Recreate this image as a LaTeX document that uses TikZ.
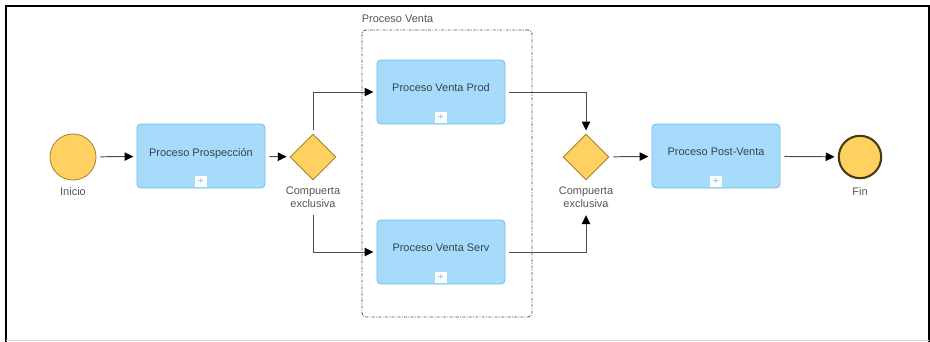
\documentclass[tikz,border=0pt]{standalone}
\usepackage{fontspec}
\setmainfont{Liberation Sans}
\usetikzlibrary{arrows.meta,positioning,shapes.geometric}
\definecolor{taskfill}{HTML}{A6DBFB}
\definecolor{taskdraw}{HTML}{7DBDE6}
\definecolor{gatefill}{HTML}{FFD160}
\definecolor{gatedraw}{HTML}{A8842C}
\definecolor{enddraw}{HTML}{4A3A14}
\definecolor{linegray}{HTML}{4D4D4D}
\definecolor{tasktext}{HTML}{36434E}
\definecolor{lbltext}{HTML}{555555}

\begin{document}
\begin{tikzpicture}[
    x=0.025cm, y=-0.025cm,
    font=\fontsize{7.8}{9.3}\selectfont,
    task/.style={draw=taskdraw, fill=taskfill, text=tasktext, rounded corners=1mm, line width=0.6pt, minimum width=32mm, minimum height=16mm, text depth=2mm},
    plusbox/.style={fill=white, text=taskdraw, inner sep=0pt, minimum size=2.8mm, font=\fontsize{7.5}{7.5}\selectfont},
    gateway/.style={diamond, aspect=1, draw=gatedraw, fill=gatefill, line width=0.6pt, inner sep=0pt, minimum width=11.5mm, minimum height=11.5mm},
    startev/.style={circle, draw=gatedraw, fill=gatefill, line width=0.6pt, minimum size=11.5mm, inner sep=0pt},
    endev/.style={circle, draw=enddraw, fill=gatefill, line width=1.5pt, minimum size=10.6mm, inner sep=0pt},
    lbl/.style={text=lbltext, align=center},
    groupbox/.style={draw=linegray, rounded corners=1mm, line width=0.6pt, dash pattern=on 2pt off 1pt on 0.6pt off 1pt, minimum width=42.5mm, minimum height=71.75mm},
    flow/.style={draw=linegray, line width=0.7pt, -{Triangle[length=2.2mm, width=2.1mm, color=black]}, shorten <=1mm, shorten >=0.8mm}
]
\useasboundingbox (0,0) rectangle (930,342);
\draw[black, line width=1.2pt] (6,342) -- (6,6) -- (929,6) -- (929,342);
\draw[black!15, line width=0.8pt] (6,340.5) -- (929,340.5);

% pool of the sales sub-process
\node[groupbox] (venta) at (447,173.5) {};
\node[lbl, anchor=south west, inner sep=0pt] (ventalbl) at ([yshift=1.6mm]venta.north west) {Proceso Venta};

\node[startev] (inicio) at (73,157) {};
\node[lbl, below=0.5mm of inicio] (iniciolbl) {Inicio};
\node[task] (prosp) at (201,156) {Proceso Prospección};
\node[plusbox] (prospplus) at ([yshift=1.8mm]prosp.south) {+};
\node[gateway] (gw1) at (313,157) {};
\node[lbl, below=0.4mm of gw1] (gw1lbl) {Compuerta\\exclusiva};

\node[task] (prod) at (441,92) {Proceso Venta Prod};
\node[plusbox] (prodplus) at ([yshift=1.8mm]prod.south) {+};
\node[task] (serv) at (441,252) {Proceso Venta Serv};
\node[plusbox] (servplus) at ([yshift=1.8mm]serv.south) {+};

\node[gateway] (gw2) at (586,157) {};
\node[lbl, below=0.4mm of gw2] (gw2lbl) {Compuerta\\exclusiva};
\node[task] (post) at (716,156) {Proceso Post-Venta};
\node[plusbox] (postplus) at ([yshift=1.8mm]post.south) {+};
\node[endev] (fin) at (860,157) {};
\node[lbl, below=0.8mm of fin] (finlbl) {Fin};

\draw[flow] (inicio) -- (prosp);
\draw[flow] (prosp) -- (gw1);
\draw[flow] (gw1.north) |- (prod.west);
\draw[flow, shorten <=0.6mm] (gw1lbl.south) |- (serv.west);
\draw[flow] (prod.east) -| (gw2.north);
\draw[flow, shorten >=0.6mm] (serv.east) -| (gw2lbl.south);
\draw[flow] (gw2) -- (post);
\draw[flow] (post) -- (fin);
\end{tikzpicture}
\end{document}
